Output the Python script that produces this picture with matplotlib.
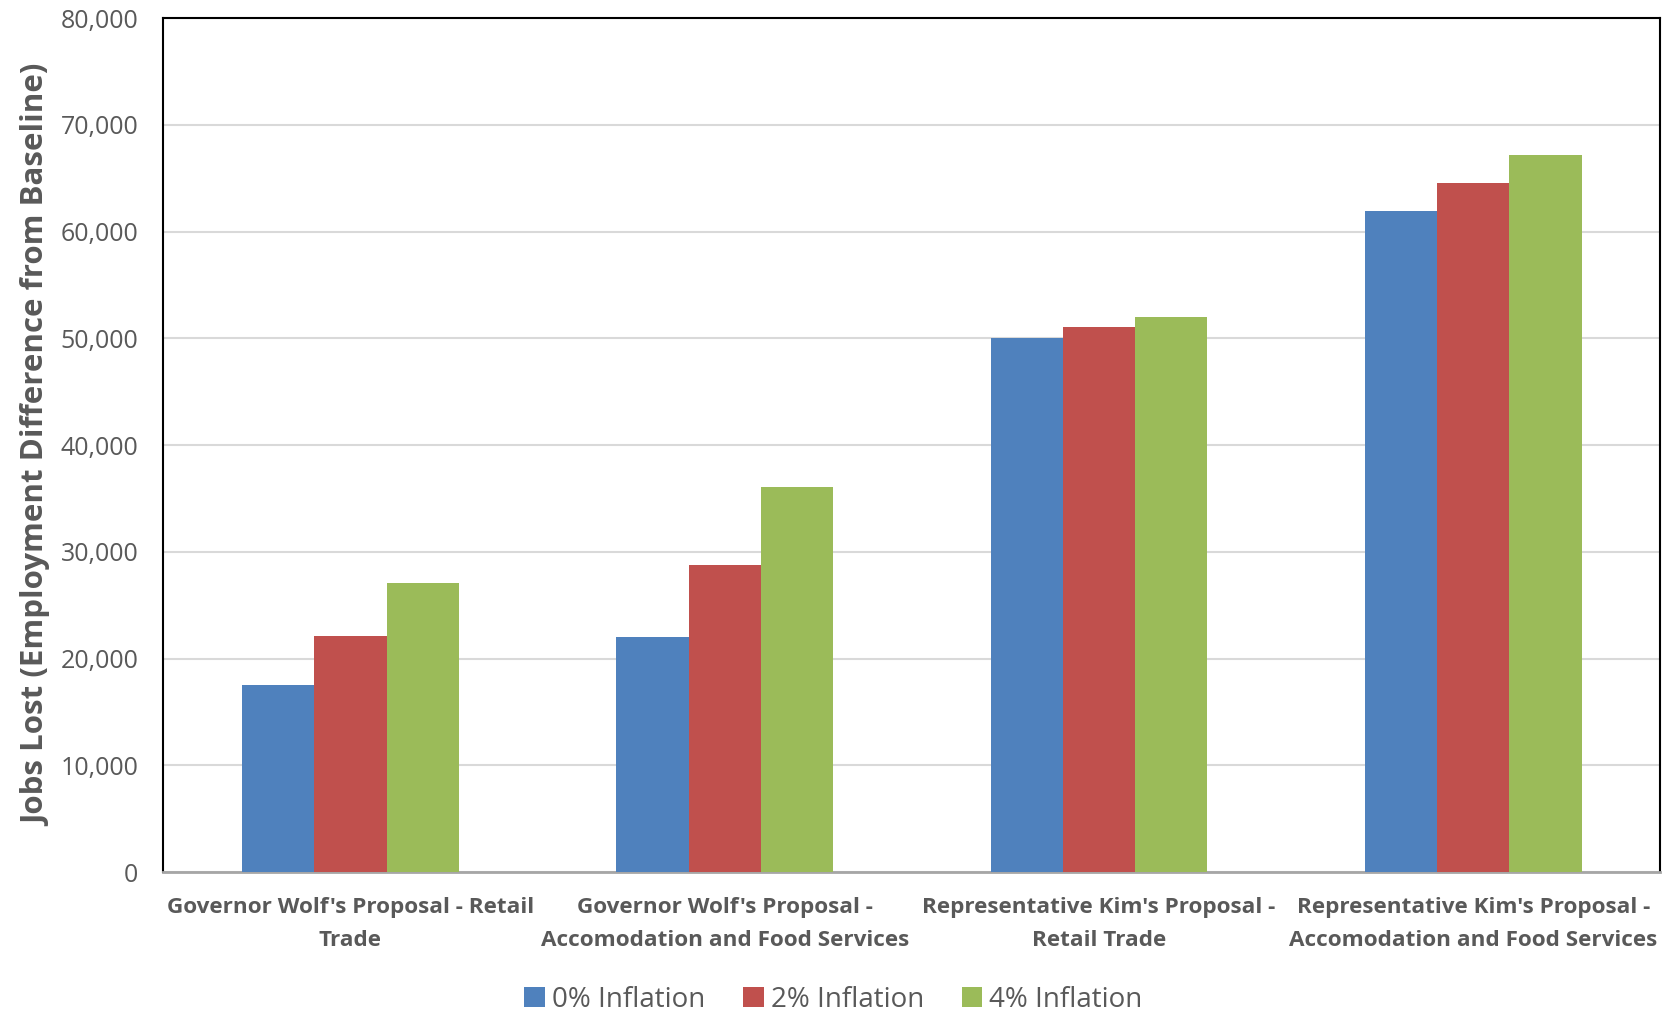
import matplotlib.pyplot as plt
import numpy as np

plt.rcParams['font.family'] = ['Open Sans', 'DejaVu Sans']

# Jobs lost by proposal
categories = [
    "Governor Wolf's Proposal - Retail\nTrade",
    "Governor Wolf's Proposal -\nAccomodation and Food Services",
    "Representative Kim's Proposal -\nRetail Trade",
    "Representative Kim's Proposal -\nAccomodation and Food Services",
]
series_names = ['0% Inflation', '2% Inflation', '4% Inflation']
inflation_0 = [17500, 22000, 50000, 61900]
inflation_2 = [22100, 28800, 51100, 64600]
inflation_4 = [27100, 36100, 52000, 67200]
colors = ['#4F81BD', '#C0504D', '#9BBB59']

fig = plt.figure(figsize=(16.67, 10.14), dpi=100)
ax = fig.add_axes([0.098, 0.14, 0.898, 0.842])

x = np.arange(len(categories))
w = 0.193
for i, (vals, name) in enumerate(zip([inflation_0, inflation_2, inflation_4], series_names)):
    ax.bar(x + (i - 1) * w, vals, w, color=colors[i], label=name, zorder=3)

ax.set_xlim(-0.5, len(categories) - 0.5)
ax.set_ylim(0, 80000)
ax.set_yticks(range(0, 80001, 10000))
ax.set_yticklabels([f'{v:,}' for v in range(0, 80001, 10000)])
ax.yaxis.grid(True, color='#D9D9D9', linewidth=1.5, zorder=0)
ax.tick_params(axis='y', length=0, labelsize=18, labelcolor='#595959', pad=18)
ax.tick_params(axis='x', length=0, pad=18)
ax.set_xticks(x)
ax.set_xticklabels(categories, fontsize=16.2, fontweight='bold', color='#595959', linespacing=1.75)

for side in ['left', 'top', 'right']:
    ax.spines[side].set_color('black')
    ax.spines[side].set_linewidth(1.5)
ax.spines['bottom'].set_color('#A6A6A6')
ax.spines['bottom'].set_linewidth(2)

ax.set_ylabel('Jobs Lost (Employment Difference from Baseline)', fontsize=22.5,
              fontweight='bold', color='#595959', labelpad=6)

fig.legend(loc='center', bbox_to_anchor=(0.5, 0.014), ncol=3, frameon=False,
           fontsize=20, labelcolor='#595959', handlelength=0.75, handleheight=0.75,
           handletextpad=0.25, columnspacing=1.35)

fig.savefig('out.png', dpi=100)
